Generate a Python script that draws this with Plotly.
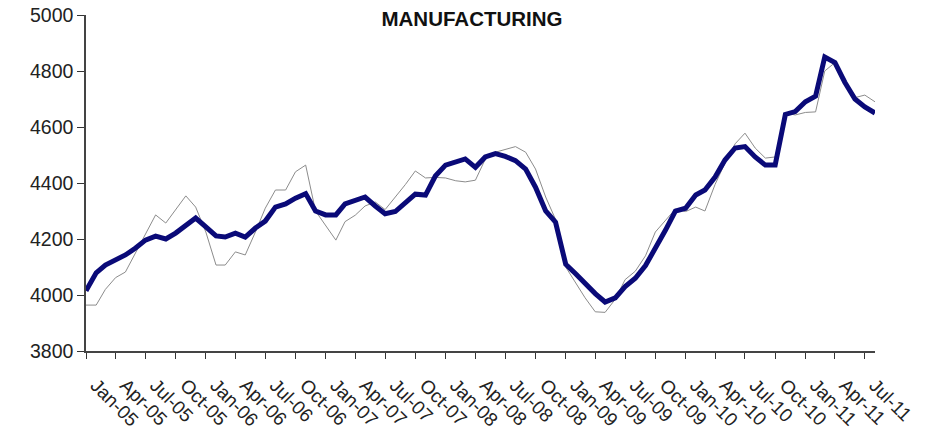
import pandas as pd
import plotly.graph_objects as go

# Monthly observations, Jan-2005 .. Aug-2011
months = pd.date_range("2005-01-01", periods=80, freq="MS")

# Trend series (thick navy line)
trend = [
    4015, 4079, 4107, 4125, 4143, 4168, 4196, 4210, 4200, 4221, 4250, 4275,
    4243, 4211, 4207, 4221, 4207, 4239, 4264, 4314, 4325, 4346, 4362, 4300,
    4286, 4286, 4325, 4336, 4350, 4318, 4290, 4298, 4328, 4360, 4357, 4425,
    4464, 4477, 4486, 4456, 4493, 4505, 4495, 4480, 4450, 4385, 4300, 4260,
    4110, 4075, 4040, 4005, 3975, 3990, 4030, 4060, 4105, 4165, 4232, 4300,
    4310, 4357, 4375, 4421, 4482, 4525, 4530, 4493, 4464, 4464, 4645, 4655,
    4690, 4710, 4850, 4830, 4760, 4700, 4672, 4650,
]

# Original series (thin grey line)
actual = [
    3964, 3964, 4020, 4062, 4082, 4150, 4214, 4286, 4257, 4305, 4354, 4314,
    4225, 4107, 4107, 4154, 4143, 4225, 4310, 4375, 4375, 4440, 4464, 4300,
    4250, 4196, 4262, 4285, 4318, 4332, 4305, 4350, 4395, 4443, 4418, 4420,
    4418, 4408, 4404, 4410, 4485, 4510, 4520, 4530, 4510, 4450, 4350, 4270,
    4100, 4040, 3990, 3940, 3938, 3985, 4055, 4085, 4140, 4225, 4268, 4307,
    4298, 4314, 4300, 4395, 4471, 4540, 4578, 4525, 4489, 4493, 4650, 4643,
    4652, 4654, 4800, 4830, 4760, 4705, 4714, 4690,
]

title_text = "MANUFACTURING"
y_ticks = [3800, 4000, 4200, 4400, 4600, 4800, 5000]

fig = go.Figure()
fig.add_trace(go.Scatter(
    x=months, y=actual, mode="lines",
    line=dict(color="#8c8c8c", width=1),
    showlegend=False, hoverinfo="skip",
))
fig.add_trace(go.Scatter(
    x=months, y=trend, mode="lines",
    line=dict(color="#0a0a78", width=5),
    showlegend=False,
))

axis_font = dict(family="Liberation Sans, Arial, sans-serif", size=19.5, color="#222222")

fig.update_layout(
    width=944, height=437,
    margin=dict(l=86, r=69, t=15, b=86, autoexpand=False),
    paper_bgcolor="white", plot_bgcolor="white",
    title=dict(
        text=f"<b>{title_text}</b>",
        x=0.5, xref="container", xanchor="center",
        y=1 - 19 / 437, yref="container", yanchor="middle",
        font=dict(family="Liberation Sans, Arial, sans-serif", size=20.5, color="#111111"),
    ),
    xaxis=dict(
        range=[months[0], months[-1]],
        tickmode="linear", tick0=months[0], dtick="M3",
        tickformat="%b-%y", tickangle=45,
        ticks="outside", ticklen=6, tickwidth=1.2, tickcolor="#333333",
        showline=True, linecolor="#444444", linewidth=1.5,
        showgrid=False, zeroline=False, automargin=False,
        ticklabelstandoff=8, ticklabelshift=10,
        tickfont=dict(axis_font, size=19),
    ),
    yaxis=dict(
        range=[3800, 5000],
        tickmode="array", tickvals=y_ticks,
        ticks="outside", ticklen=7, tickwidth=1.2, tickcolor="#333333",
        showline=True, linecolor="#444444", linewidth=1.5,
        showgrid=False, zeroline=False, automargin=False,
        tickfont=axis_font,
    ),
)

fig.write_html("out.html")
